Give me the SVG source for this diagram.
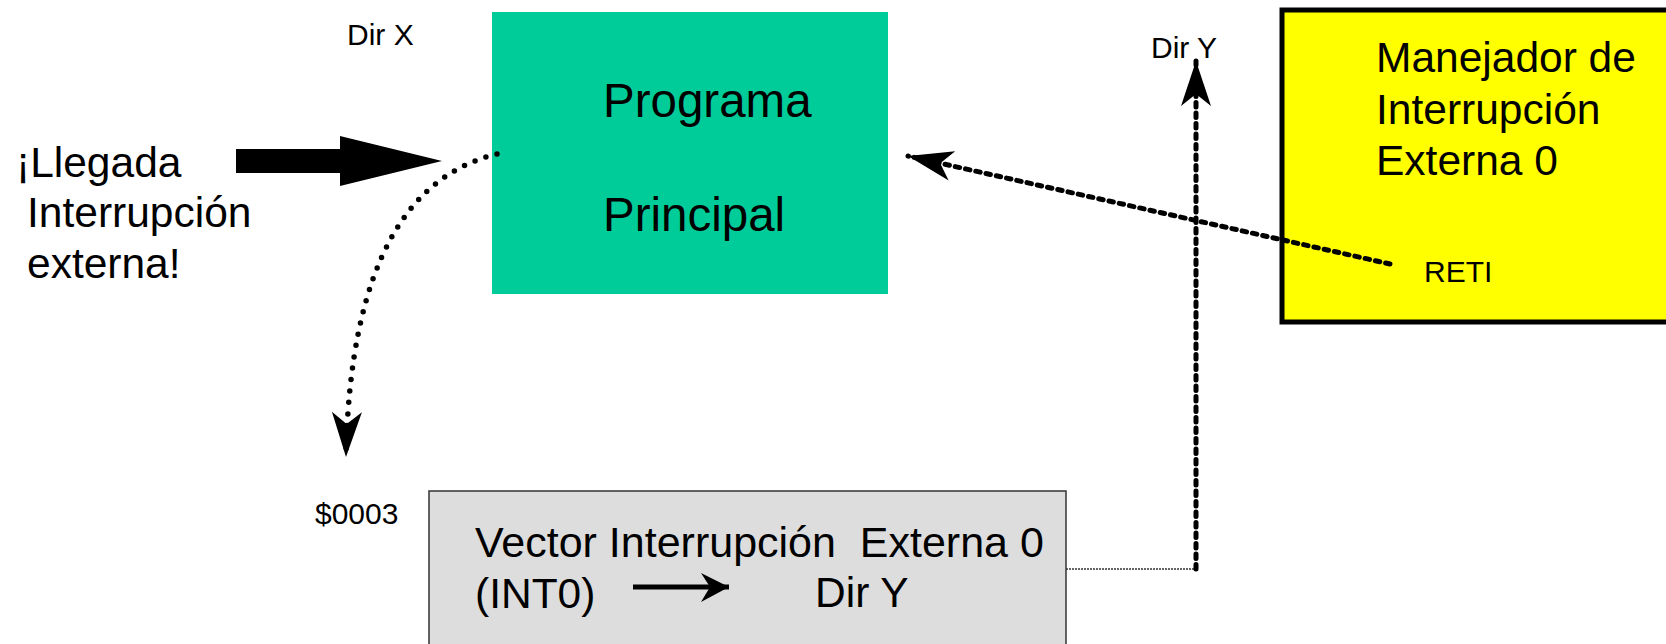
<svg xmlns="http://www.w3.org/2000/svg" width="1666" height="644" viewBox="0 0 1666 644">
  <style>
    text { font-family: "Liberation Sans", Arial, sans-serif; fill: #000; }
    .big { font-size: 47.5px; }
    .mid { font-size: 42.5px; }
    .small { font-size: 30px; }
    .dashed { fill: none; stroke: #000; stroke-width: 5; stroke-dasharray: 4.5 6; stroke-linecap: round; }
    .dotted { fill: none; stroke: #000; stroke-width: 5.5; stroke-dasharray: 0 11.5; stroke-linecap: round; }
  </style>
  <defs>
    <marker id="stealth" markerUnits="userSpaceOnUse" viewBox="-46 -16 48 32" markerWidth="48" markerHeight="32" refX="0" refY="0" orient="auto">
      <path d="M0,0 L-45,-15 L-33,0 L-45,15 Z" fill="#000"/>
    </marker>
    <marker id="small-head" markerUnits="userSpaceOnUse" viewBox="-30 -16 32 32" markerWidth="32" markerHeight="32" refX="0" refY="0" orient="auto">
      <path d="M0,0 L-28,-14 L-19,0 L-28,15 Z" fill="#000"/>
    </marker>
  </defs>

  <!-- main program block -->
  <g id="programa-principal">
    <rect x="492" y="12" width="396" height="282" fill="#00CC99"/>
    <text class="big" x="603" y="117">Programa</text>
    <text class="big" x="603" y="231">Principal</text>
  </g>

  <!-- external interrupt handler block -->
  <g id="manejador">
    <rect x="1282" y="10" width="400" height="312" fill="#FFFF00" stroke="#000" stroke-width="5"/>
    <text class="mid" x="1376" y="72">Manejador de</text>
    <text class="mid" x="1376" y="124">Interrupción</text>
    <text class="mid" x="1376" y="175">Externa 0</text>
    <text class="small" x="1424" y="282">RETI</text>
  </g>

  <!-- interrupt vector block -->
  <g id="vector">
    <rect x="429" y="491" width="637" height="170" fill="#DDDDDD" stroke="#333" stroke-width="1.5"/>
    <text x="475" y="557" style="font-size:43px" xml:space="preserve">Vector Interrupción  Externa 0</text>
    <text class="mid" x="475" y="608">(INT0)</text>
    <line x1="633" y1="587" x2="729" y2="587" stroke="#000" stroke-width="5" marker-end="url(#small-head)"/>
    <text class="mid" x="815" y="607">Dir Y</text>
  </g>

  <!-- incoming interrupt label -->
  <g id="llegada">
    <text class="mid" x="16" y="177">¡Llegada</text>
    <text class="mid" x="27" y="227">Interrupción</text>
    <text class="mid" x="27" y="278">externa!</text>
    <polygon points="236,149 340,149 340,136 442,161 340,186 340,173 236,173" fill="#000"/>
  </g>

  <!-- address labels -->
  <g id="labels">
    <text class="small" x="347" y="45">Dir X</text>
    <text class="small" x="1151" y="58">Dir Y</text>
    <text class="small" x="315" y="524">$0003</text>
  </g>

  <!-- connectors -->
  <g id="connectors">
    <path class="dotted" d="M497,154 C410,175 350,260 346,457" marker-end="url(#stealth)"/>
    <path d="M1066,569 L1195,569" fill="none" stroke="#333" stroke-width="1.5" stroke-dasharray="2 1"/>
    <path class="dashed" d="M1196,569 L1196,61" marker-end="url(#stealth)"/>
    <path class="dashed" d="M1390,264 L908,156" marker-end="url(#stealth)"/>
  </g>
</svg>
